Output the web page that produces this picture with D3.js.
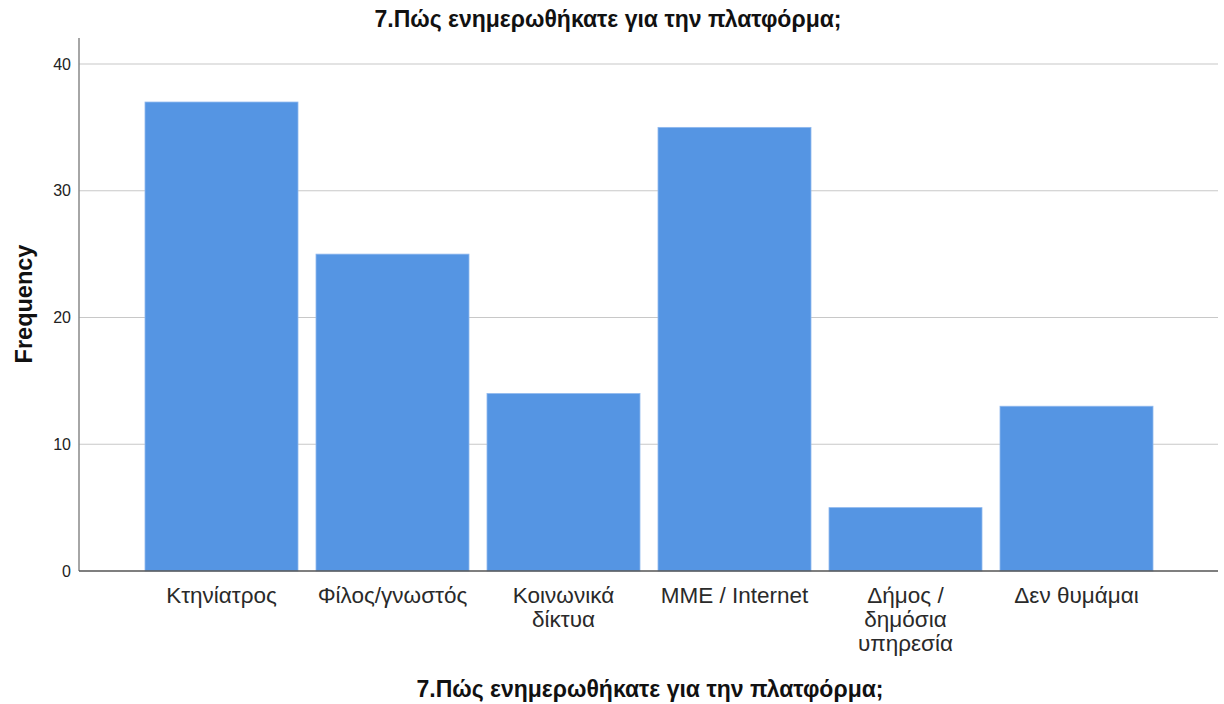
<!DOCTYPE html>
<html><head><meta charset="utf-8">
<script src="https://cdn.jsdelivr.net/npm/d3@7"></script>
<style>body{margin:0;background:#fff;} text{font-family:"Liberation Sans",Arial,sans-serif;}</style>
</head><body><svg id="c" width="1224" height="704"></svg>
<script>
const categories = ["Κτηνίατρος","Φίλος/γνωστός","Κοινωνικά\nδίκτυα","ΜΜΕ / Internet","Δήμος /\nδημόσια\nυπηρεσία","Δεν θυμάμαι"];
const values = [37,25,14,35,5,13];
const yTicks = [0,10,20,30,40];
const title = "7.Πώς ενημερωθήκατε για την πλατφόρμα;";
const yLabel = "Frequency";

const svg = d3.select("#c");
const plotLeft = 79, plotRight = 1218, plotTop = 38, plotBottom = 571;
const y = d3.scaleLinear().domain([0,40]).range([plotBottom,64]);
const x = d3.scaleBand().domain(categories).range([136,1162]).paddingInner(18/171).paddingOuter(9/171);

// gridlines
svg.append("g").selectAll("line").data(yTicks.filter(d=>d>0)).join("line")
  .attr("x1",plotLeft).attr("x2",plotRight).attr("y1",d=>y(d)).attr("y2",d=>y(d))
  .attr("stroke","#c8c8c8").attr("stroke-width",1.2);

// bars
svg.append("g").selectAll("rect").data(values).join("rect")
  .attr("x",(d,i)=>x(categories[i])).attr("width",x.bandwidth())
  .attr("y",d=>y(d)).attr("height",d=>plotBottom-y(d))
  .attr("fill","#5595e3").attr("stroke","#8fb8ee").attr("stroke-width",0.8);

// axes
const yAxis = d3.axisLeft(y).tickValues(yTicks).tickSize(0).tickPadding(8);
const gy = svg.append("g").attr("transform",`translate(${plotLeft},0)`).call(yAxis);
gy.select(".domain").remove();
gy.selectAll(".tick line").remove();
gy.selectAll(".tick text").attr("font-size",16).attr("fill","#222").attr("font-family","Liberation Sans, Arial, sans-serif");
svg.append("line").attr("x1",plotLeft).attr("x2",plotLeft).attr("y1",plotTop).attr("y2",plotBottom)
  .attr("stroke","#888").attr("stroke-width",1.5);
svg.append("line").attr("x1",plotLeft).attr("x2",plotRight).attr("y1",plotBottom).attr("y2",plotBottom)
  .attr("stroke","#555").attr("stroke-width",1.3);

// category labels
const lab = svg.append("g").selectAll("text").data(categories).join("text")
  .attr("text-anchor","middle").attr("font-size",22.5).attr("fill","#2a2a2a");
lab.each(function(d){
  const t = d3.select(this);
  d.split("\n").forEach((ln,i)=>{
    t.append("tspan").attr("x",x(d)+x.bandwidth()/2).attr("y",603+i*24).text(ln);
  });
});

// titles
svg.append("text").attr("x",608).attr("y",27).attr("text-anchor","middle")
  .attr("font-size",23).attr("font-weight","bold").attr("fill","#111").text(title);
svg.append("text").attr("x",650).attr("y",697).attr("text-anchor","middle")
  .attr("font-size",23).attr("font-weight","bold").attr("fill","#111").text(title);
svg.append("text").attr("transform","translate(32,304) rotate(-90)").attr("text-anchor","middle")
  .attr("font-size",23.5).attr("font-weight","bold").attr("fill","#111").text(yLabel);
</script></body></html>
